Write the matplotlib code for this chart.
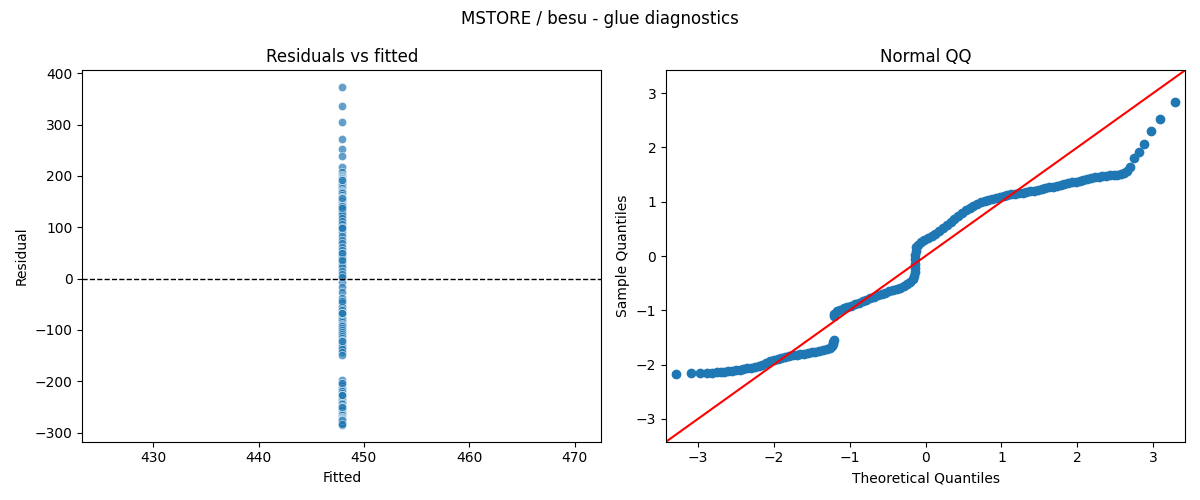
import matplotlib
matplotlib.use("Agg")
import matplotlib.pyplot as plt
import numpy as np

# ---------------- data ----------------
fitted_value = 447.9

# residuals (left panel)
residuals = [
    373, 336, 305, 272, 253, 238, 218, 207,
    201, 200, 198, 197, 196, 194, 193, 192, 189, 188, 185, 184, 181, 180,
    177, 176, 173, 171, 169, 168, 166, 163, 160, 159, 158, 156, 155, 154,
    152, 151, 148, 146, 143, 142, 139, 137, 134, 131, 127, 124, 118, 113,
    106, 99, 91, 83, 76, 70, 62, 55, 50, 45, 40, 34, 29, 22, 15, 4,
    -6, -17, -27, -38, -47, -55, -62, -67, -71, -75, -79, -81, -84, -88,
    -90, -93, -97, -101, -105, -108, -112, -115, -119, -122, -125, -129,
    -133, -138, -143, -148,
    -198, -203, -208, -213, -217, -220, -223, -226, -228, -230, -231, -234,
    -235, -236, -238, -239, -242, -243, -245, -248, -251, -253, -257, -261,
    -264, -266, -269, -270, -272, -273, -274, -276, -277, -278, -280, -281,
    -282, -285,
    # repeated values (darker spots in the column)
    193, 157, 141, 138, 100, 99, 50, 37, 8, 4, -44, -67, -67, -122,
    -204, -226, -226, -250, -275, -283,
]

# Normal QQ panel: theoretical quantiles and sample quantiles
qq_theoretical = [
    -3.29, -3.09, -2.97, -2.88, -2.81, -2.75, -2.70, -2.65, -2.60, -2.55,
    -2.50, -2.45, -2.40, -2.35, -2.30, -2.25, -2.20, -2.15, -2.10, -2.05,
    -2.00, -1.95, -1.90, -1.85, -1.80, -1.75, -1.70, -1.65, -1.60, -1.55,
    -1.50, -1.45, -1.40, -1.35, -1.30, -1.26, -1.23, -1.22, -1.215, -1.21,
    -1.21, -1.20, -1.17, -1.13, -1.08, -1.03, -0.98, -0.93, -0.88, -0.83,
    -0.78, -0.73, -0.68, -0.63, -0.58, -0.53, -0.48, -0.43, -0.38, -0.33,
    -0.28, -0.24, -0.20, -0.17, -0.15,
    -0.14, -0.14, -0.14, -0.14, -0.135, -0.13, -0.12,
    -0.10, -0.06, -0.02, 0.03, 0.08, 0.13, 0.18, 0.23, 0.28, 0.33,
    0.38, 0.43, 0.48, 0.53, 0.58, 0.63, 0.68, 0.73, 0.78, 0.83,
    0.88, 0.93, 0.98, 1.03, 1.08, 1.13, 1.18, 1.23, 1.28, 1.33,
    1.38, 1.43, 1.48, 1.53, 1.58, 1.63, 1.68, 1.73, 1.78, 1.83,
    1.88, 1.93, 1.98, 2.03, 2.08, 2.13, 2.18, 2.23, 2.28, 2.33,
    2.38, 2.43, 2.48, 2.53, 2.57, 2.61, 2.65, 2.70, 2.75, 2.81,
    2.88, 2.97, 3.09, 3.29,
]
qq_sample = [
    -2.18, -2.16, -2.16, -2.15, -2.15, -2.14, -2.14, -2.13, -2.12, -2.11,
    -2.10, -2.09, -2.08, -2.07, -2.06, -2.04, -2.02, -2.00, -1.97, -1.94,
    -1.92, -1.90, -1.88, -1.86, -1.85, -1.83, -1.82, -1.81, -1.80, -1.79,
    -1.77, -1.76, -1.75, -1.73, -1.71, -1.69, -1.66, -1.62, -1.58, -1.54,
    -1.11, -1.06, -1.02, -0.99, -0.96, -0.94, -0.92, -0.89, -0.86, -0.83,
    -0.81, -0.78, -0.75, -0.72, -0.70, -0.68, -0.65, -0.63, -0.61, -0.58,
    -0.55, -0.52, -0.48, -0.43, -0.37,
    -0.30, -0.22, -0.14, -0.06, 0.02, 0.10, 0.16,
    0.21, 0.25, 0.29, 0.33, 0.37, 0.41, 0.46, 0.52, 0.57, 0.62,
    0.68, 0.74, 0.80, 0.85, 0.89, 0.93, 0.96, 0.99, 1.01, 1.03,
    1.05, 1.07, 1.08, 1.10, 1.12, 1.14, 1.15, 1.16, 1.17, 1.18,
    1.19, 1.20, 1.21, 1.23, 1.25, 1.27, 1.28, 1.29, 1.31, 1.33,
    1.34, 1.36, 1.37, 1.39, 1.40, 1.42, 1.43, 1.45, 1.46, 1.47,
    1.48, 1.49, 1.49, 1.50, 1.51, 1.52, 1.56, 1.64, 1.80, 1.92,
    2.06, 2.30, 2.53, 2.83,
]

qq_limits = [-3.42, 3.42]
x_ticks_qq = [-3, -2, -1, 0, 1, 2, 3]
y_ticks_qq = [-3, -2, -1, 0, 1, 2, 3]

# ---------------- figure ----------------
fig, (ax1, ax2) = plt.subplots(1, 2, figsize=(12, 5), dpi=100)

fitted = np.full(len(residuals), fitted_value)
ax1.scatter(fitted, residuals, s=36, alpha=0.7, color="#1f77b4",
            edgecolor="white", linewidth=0.48)
ax1.axhline(0, color="black", linestyle="--", linewidth=1)
ax1.set_title("Residuals vs fitted")
ax1.set_xlabel("Fitted")
ax1.set_ylabel("Residual")

ax2.plot(qq_theoretical, qq_sample, marker="o", linestyle="none",
         color="#1f77b4", markersize=6)
ax2.plot(qq_limits, qq_limits, color="red", linewidth=1.5)
ax2.set_xlim(qq_limits)
ax2.set_ylim(qq_limits)
ax2.set_xticks(x_ticks_qq)
ax2.set_yticks(y_ticks_qq)
ax2.set_title("Normal QQ")
ax2.set_xlabel("Theoretical Quantiles")
ax2.set_ylabel("Sample Quantiles")

fig.suptitle("MSTORE / besu - glue diagnostics")
fig.tight_layout()
fig.savefig("out.png")
